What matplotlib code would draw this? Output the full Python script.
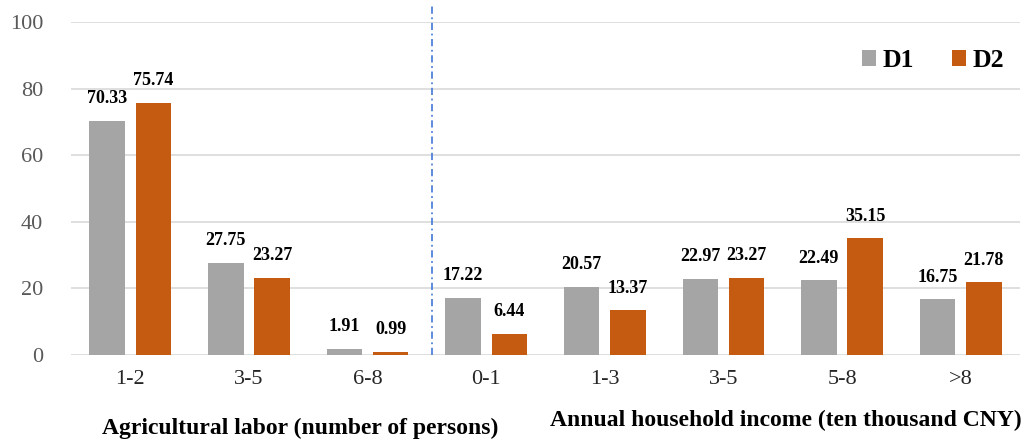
import matplotlib.pyplot as plt
import numpy as np

categories = ["1-2", "3-5", "6-8", "0-1", "1-3", "3-5", "5-8", ">8"]
d1 = [70.33, 27.75, 1.91, 17.22, 20.57, 22.97, 22.49, 16.75]
d2 = [75.74, 23.27, 0.99, 6.44, 13.37, 23.27, 35.15, 21.78]
group_labels = ["Agricultural labor (number of persons)",
                "Annual household income (ten thousand CNY)"]

plt.rcParams["font.family"] = ["Liberation Serif", "DejaVu Serif"]

fig = plt.figure(figsize=(10.30, 4.46), dpi=100)
ax = fig.add_axes([71 / 1030, 91 / 446, 949 / 1030, 333 / 446])

x = np.arange(len(categories))
w = 0.30
off = 0.195
b1 = ax.bar(x - off, d1, width=w, color="#A5A5A5", label="D1", zorder=3)
b2 = ax.bar(x + off, d2, width=w, color="#C55A11", label="D2", zorder=3)

for bars, vals in ((b1, d1), (b2, d2)):
    for rect, v in zip(bars, vals):
        ax.text(rect.get_x() + rect.get_width() / 2, v + 4.0, f"{v:.2f}",
                ha="center", va="bottom", fontsize=13, fontweight="bold")

ax.set_xlim(-0.5, len(categories) - 0.5)
ax.set_ylim(0, 100)
ax.set_yticks(range(0, 101, 20))
ax.set_xticks(x)
ax.set_xticklabels(categories)
ax.tick_params(axis="both", length=0, labelsize=16, labelcolor="#595959")
ax.tick_params(axis="x", pad=11, labelcolor="#262626")
ax.tick_params(axis="y", pad=20)
ax.yaxis.grid(True, color="#D9D9D9", linewidth=1.2, zorder=0)
for s in ax.spines.values():
    s.set_visible(False)

# separator between the two variable groups
ax.plot([2.54, 2.54], [0, 105], color="#4F81D9", linewidth=1.3,
        linestyle=(0, (4, 2, 1, 2)), clip_on=False, zorder=2)

ax.text(300, 12, group_labels[0], transform=None, ha="center", va="baseline",
        fontsize=17, fontweight="bold")
ax.text(786, 20, group_labels[1], transform=None, ha="center", va="baseline",
        fontsize=17, fontweight="bold")

ax.legend(loc="upper right", ncol=2, frameon=False, bbox_to_anchor=(1.008, 0.988),
          prop={"weight": "bold", "size": 18.5}, handlelength=0.55, handleheight=0.55,
          handletextpad=0.25, columnspacing=1.5)

fig.savefig("out.png", dpi=100)
